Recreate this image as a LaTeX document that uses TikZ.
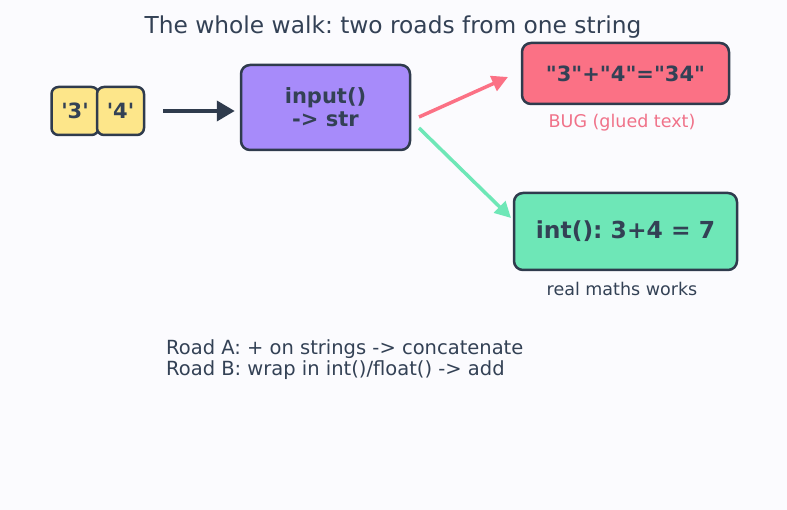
\documentclass[tikz,border=0pt]{standalone}
\usepackage{fontspec}
\setmainfont{DejaVu Sans}[Ligatures=TeXOff]
\frenchspacing
\usetikzlibrary{arrows.meta}
\definecolor{bg}{HTML}{FBFBFE}
\definecolor{ink}{HTML}{2F3B4D}
\definecolor{txt}{HTML}{334155}
\definecolor{yel}{HTML}{FDE68A}
\definecolor{pur}{HTML}{A78BFA}
\definecolor{redf}{HTML}{FB7185}
\definecolor{grn}{HTML}{6EE7B7}
\definecolor{pinktxt}{HTML}{F07289}
\tikzset{
  box/.style={draw=ink, line width=2.5pt, rounded corners=9pt, inner sep=0pt, align=center, text=txt, font=\bfseries\fontsize{21}{23}\selectfont},
  chip/.style={box, rounded corners=7pt, minimum width=47pt, minimum height=48pt, fill=yel},
  lbl/.style={font=\fontsize{17.5}{20}\selectfont, inner sep=0pt},
  darrow/.style={draw=ink, line width=4pt, -{Triangle[length=18pt,width=20pt]}},
  carrow/.style={line width=3.5pt, -{Triangle[length=16pt,width=16pt]}}
}
\begin{document}
\begin{tikzpicture}[x=1pt,y=-1pt]
\fill[bg] (0,0) rectangle (787,510);
\useasboundingbox (0,0) rectangle (787,510);
\node[text=txt, font=\fontsize{23.3}{26}\selectfont, inner sep=0pt] (title) at (393,27) {The whole walk: two roads from one string};
\node[chip] (c3) at (75,111) {'3'};
\node[chip] (c4) at (120.5,111) {'4'};
\node[box, fill=pur, minimum width=169pt, minimum height=85pt] (inp) at (325.5,107.5) {input()\\-> str};
\node[box, fill=redf, minimum width=207pt, minimum height=61pt] (bug) at (625.5,73.5) {"3"+"4"="34"};
\node[box, fill=grn, minimum width=223pt, minimum height=77pt, font=\bfseries\fontsize{23.4}{26}\selectfont] (ok) at (625.5,231.5) {int(): 3+4 = 7};
\node[lbl, text=pinktxt] (buglbl) at (622,122.5) {BUG (glued text)};
\node[lbl, text=txt] (oklbl) at (622,288.5) {real maths works};
\node[anchor=west, align=left, text=txt, inner sep=0pt, font=\fontsize{19.5}{21}\selectfont] (note) at (166,360) {Road A: + on strings -> concatenate\\Road B: wrap in int()/float() -> add};
\draw[darrow, shorten <=18pt, shorten >=5pt] (c4.east) -- (c4.east -| inp.west);
\coordinate (rs) at (419,117);
\coordinate (re) at (508,77);
\coordinate (gs) at (419,128);
\coordinate (ge) at (511,218);
\draw[carrow, draw=redf] (rs) -- (re);
\draw[carrow, draw=grn] (gs) -- (ge);
\end{tikzpicture}
\end{document}
